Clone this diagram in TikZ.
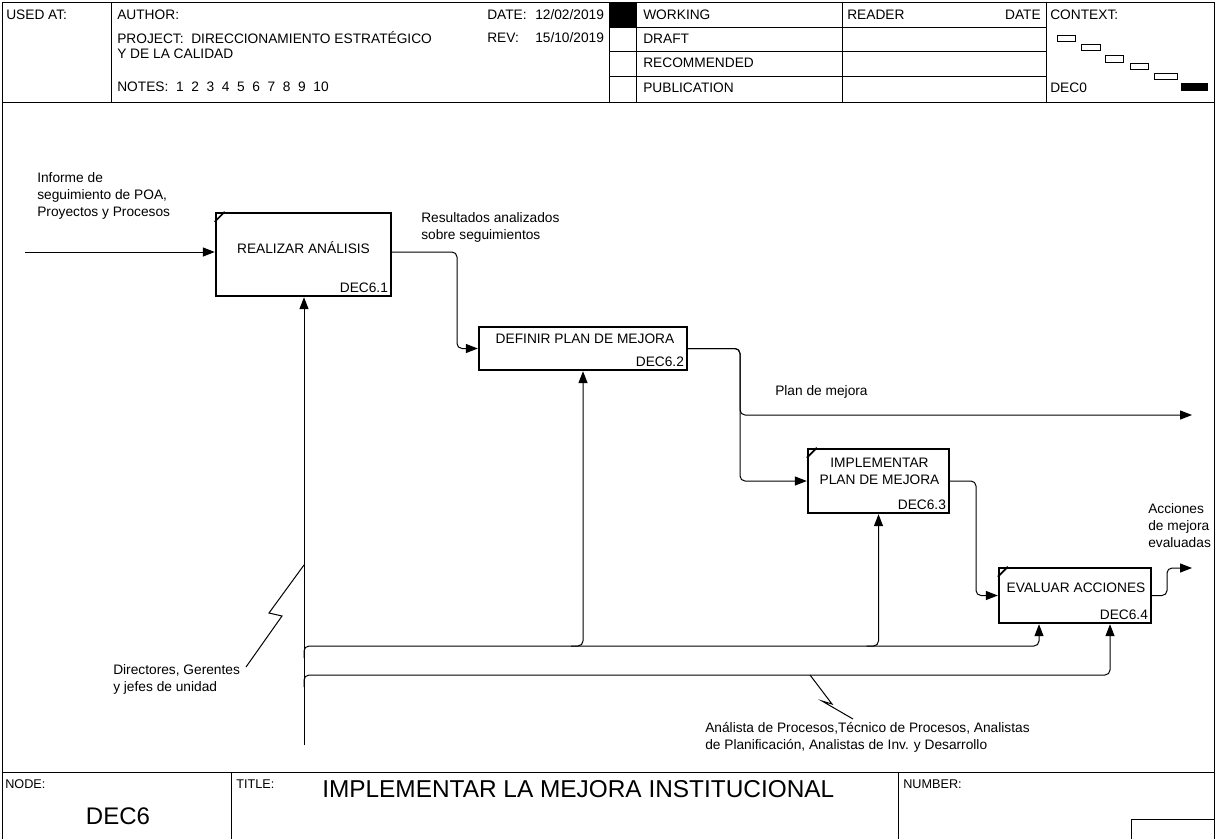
\documentclass[tikz,border=0pt]{standalone}
\usepackage{fontspec}
\setmainfont{Liberation Sans}
\usetikzlibrary{arrows.meta,calc}
\begin{document}
\begin{tikzpicture}[x=0.75pt,y=-0.75pt,
  frame/.style={line width=0.75pt},
  lbl/.style={font=\fontsize{10.3}{12.75}\selectfont, inner sep=0pt, align=left},
  small/.style={font=\fontsize{9.5}{11}\selectfont, inner sep=0pt},
  actbox/.style={draw, line width=1.8pt, inner sep=0pt},
  arr/.style={-{Triangle[length=9pt,width=6.8pt]}, line width=0.75pt, rounded corners=3.75pt},
  plain/.style={line width=0.75pt},
  tick/.style={line width=1.2pt}]
\useasboundingbox (0,0) rectangle (1216,839);
% outer frame
\draw[frame] (2,839) -- (2,2) -- (1214,2) -- (1214,839);
\draw[frame] (2,102) -- (1214,102);
\foreach \x in {111,609,636,842,1046} \draw[frame] (\x,2) -- (\x,102);
\foreach \y in {27,51,76} \draw[frame] (609,\y) -- (1046,\y);
\fill (609,2) rectangle (636,27);
% header texts
\node[lbl, anchor=west] (usedat) at (6,15) {USED AT:};
\node[lbl, anchor=west] (author) at (117,15) {AUTHOR:};
\node[lbl, anchor=west] (date) at (487,15) {\makebox[36pt][l]{DATE:}12/02/2019};
\node[lbl, anchor=west] (project) at (117,38) {PROJECT:\ \ DIRECCIONAMIENTO ESTRATÉGICO};
\node[lbl, anchor=west] (rev) at (487,38) {\makebox[36pt][l]{REV:}15/10/2019};
\node[lbl, anchor=west] (calidad) at (117,54) {Y DE LA CALIDAD};
\node[lbl, anchor=west] (notes) at (117,87) {NOTES:\ \ 1\ \ 2\ \ 3\ \ 4\ \ 5\ \ 6\ \ 7\ \ 8\ \ 9\ \ 10};
\node[lbl, anchor=west] (working) at (643,15) {WORKING};
\node[lbl, anchor=west] (draft) at (643,39) {DRAFT};
\node[lbl, anchor=west] (recom) at (643,63) {RECOMMENDED};
\node[lbl, anchor=west] (public) at (643,88) {PUBLICATION};
\node[lbl, anchor=west] (reader) at (847,15) {READER};
\node[lbl, anchor=east] (rdate) at (1041,15) {DATE};
\node[lbl, anchor=west] (context) at (1050,15) {CONTEXT:};
\node[lbl, anchor=west] (dec0) at (1050,88) {DEC0};
% context boxes
\draw[plain] (1057,35) rectangle (1075,41);
\draw[plain] (1081,44) rectangle (1100,50);
\draw[plain] (1105,55) rectangle (1123,62);
\draw[plain] (1130,63) rectangle (1148,69);
\draw[plain] (1154,73) rectangle (1177,79);
\fill (1181,83) rectangle (1208,91);
% activity boxes
\node[actbox, minimum width=131.25pt, minimum height=62.25pt] (b1) at (303.5,254.5) {};
\node[actbox, minimum width=156pt, minimum height=32.25pt] (b2) at (583,348.5) {};
\node[actbox, minimum width=105.75pt, minimum height=48pt] (b3) at (878.5,481) {};
\node[actbox, minimum width=114pt, minimum height=41.25pt] (b4) at (1075,595.5) {};
\foreach \b in {b1,b3,b4}
  \draw[tick] ($(\b.north west)+(0,10)$) -- ($(\b.north west)+(10,0)$);
\node[lbl] (b1t) at ($(b1.center)+(0,-7)$) {REALIZAR ANÁLISIS};
\node[lbl, anchor=south east] (b1n) at ($(b1.south east)+(-4,-4)$) {DEC6.1};
\node[lbl] (b2t) at ($(b2.center)+(2,-10)$) {DEFINIR PLAN DE MEJORA};
\node[lbl, anchor=south east] (b2n) at ($(b2.south east)+(-4,-4)$) {DEC6.2};
\node[lbl, align=center] (b3t) at ($(b3.center)+(1,-10)$) {IMPLEMENTAR\\PLAN DE MEJORA};
\node[lbl, anchor=south east] (b3n) at ($(b3.south east)+(-4,-4)$) {DEC6.3};
\node[lbl] (b4t) at ($(b4.center)+(1,-8)$) {EVALUAR ACCIONES};
\node[lbl, anchor=south east] (b4n) at ($(b4.south east)+(-4,-4)$) {DEC6.4};
% coordinates
\coordinate (in1) at (25,252);
\coordinate (out1) at (1192,415);
\coordinate (out2) at (1192,568);
\coordinate (m0) at (304,745);
\coordinate (t1) at (457,0);
\coordinate (t2) at (740,0);
\coordinate (t3) at (976,0);
\coordinate (t4) at (1167,0);
\coordinate (h1) at (0,646);
\coordinate (h2) at (0,675);
\coordinate (k1) at (1039,0);
\coordinate (k2) at (1110,0);
\coordinate (s1) at (304,658);
\coordinate (s2) at (304,687);
% connectors
\draw[arr] (in1) -- (in1 -| b1.west);
\draw[arr] (b1.east |- in1) -| (t1 |- b2.west) -- (b2.west);
\draw[arr] (b2.east) -| (t2 |- out1) -- (out1);
\draw[arr] (b2.east) -| (t2 |- b3.west) -- (b3.west);
\draw[arr] (b3.east) -| (t3 |- b4.west) -- (b4.west);
\draw[arr] (b4.east) -| (t4 |- out2) -- (out2);
\draw[arr] (m0) -- (m0 |- b1.south);
\draw[arr] (s1) |- (k1 |- h1) -- (k1 |- b4.south);
\draw[arr] (s2) |- (k2 |- h2) -- (k2 |- b4.south);
\draw[arr] ($(b2.south |- h1)+(-12,0)$) -| (b2.south);
\draw[arr] ($(b3.south |- h1)+(-12,0)$) -| (b3.south);
% squiggles
\draw[plain] (m0 |- 0,565) -- (269,613) -- (282,616) -- (246,667);
\draw[plain] (810,675) -- (832,704) -- (822,701) -- (853,719);
% labels
\node[lbl, anchor=north west] (linf) at (37,172) {Informe de\\seguimiento de POA,\\Proyectos y Procesos};
\node[lbl, anchor=north west] (lres) at (421,212) {Resultados analizados\\sobre seguimientos};
\node[lbl, anchor=west] (lplan) at (775,392) {Plan de mejora};
\node[lbl, anchor=north west] (lacc) at (1148,503) {Acciones\\de mejora\\evaluadas};
\node[lbl, anchor=north west] (ldir) at (113,664) {Directores, Gerentes\\y jefes de unidad};
\node[lbl, anchor=north west] (lana) at (705,722) {Análista de Procesos,Técnico de Procesos, Analistas\\de Planificación, Analistas de Inv. y Desarrollo};
% bottom
\draw[frame] (2,772) -- (1214,772);
\draw[frame] (231,772) -- (231,839);
\draw[frame] (898,772) -- (898,839);
\draw[frame] (1131,839) -- (1131,819) -- (1214,819);
\node[small, anchor=west] (nodel) at (5,784) {NODE:};
\node[small, anchor=west] (titlel) at (236,784) {TITLE:};
\node[small, anchor=west] (numl) at (903,784) {NUMBER:};
\node[inner sep=0pt, font=\fontsize{18}{20}\selectfont] (dec6) at (118,816) {DEC6};
\node[inner sep=0pt, anchor=west, font=\fontsize{18.3}{20}\selectfont] (title) at (322,789) {IMPLEMENTAR LA MEJORA INSTITUCIONAL};
\end{tikzpicture}
\end{document}
